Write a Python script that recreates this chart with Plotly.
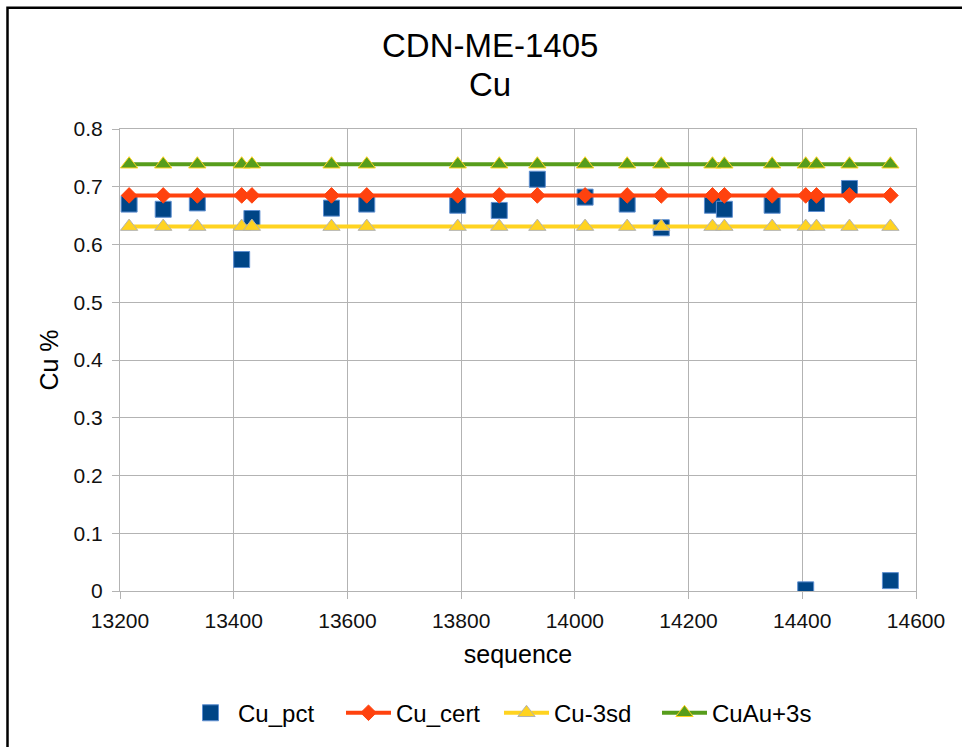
import plotly.graph_objects as go

# Data
sequence = [13216, 13276, 13336, 13414, 13432, 13572, 13634, 13794, 13867, 13934,
            14018, 14092, 14152, 14242, 14263, 14347, 14406, 14425, 14483, 14555]
cu_pct = [0.670, 0.661, 0.672, 0.574, 0.645, 0.663, 0.670, 0.668, 0.659, 0.713,
          0.682, 0.670, 0.629, 0.668, 0.661, 0.668, 0.002, 0.671, 0.697, 0.018]
cu_cert = [0.685] * len(sequence)
cu_minus_3sd = [0.631] * len(sequence)
cu_plus_3s = [0.739] * len(sequence)

title_lines = ["CDN-ME-1405", "Cu"]
x_title = "sequence"
y_title = "Cu %"

FONT = "Liberation Sans, Arial, sans-serif"
GRID = "#b3b3b3"

fig = go.Figure()
fig.add_trace(go.Scatter(
    x=sequence, y=cu_pct, name="Cu_pct", mode="markers",
    marker=dict(symbol="square", size=16, color="#004586",
                line=dict(color="#5e8fd0", width=1))))
fig.add_trace(go.Scatter(
    x=sequence, y=cu_cert, name="Cu_cert", mode="lines+markers",
    line=dict(color="#ff420e", width=4),
    marker=dict(symbol="diamond", size=12, color="#ff420e",
                line=dict(color="#ff420e", width=1))))
fig.add_trace(go.Scatter(
    x=sequence, y=cu_minus_3sd, name="Cu-3sd", mode="lines+markers",
    line=dict(color="#ffd320", width=4),
    marker=dict(symbol="triangle-up", size=15, color="#ffd320",
                line=dict(color="#b3b3b3", width=1))))
fig.add_trace(go.Scatter(
    x=sequence, y=cu_plus_3s, name="CuAu+3s", mode="lines+markers",
    line=dict(color="#579d1c", width=4),
    marker=dict(symbol="triangle-up", size=15, color="#579d1c",
                line=dict(color="#ffd320", width=1))))

L, R, T, B = 120, 46, 129.3, 153.7
W, H = 962, 747
pw, ph = W - L - R, H - T - B

def px_x(p):
    return (p - L) / pw

def px_y(p):
    return (H - B - p) / ph

fig.update_layout(
    width=W, height=H,
    margin=dict(l=L, r=R, t=T, b=B),
    paper_bgcolor="white", plot_bgcolor="white",
    font=dict(family=FONT, color="#000000", size=21),
    showlegend=True,
    legend=dict(orientation="h", x=px_x(499), xanchor="center",
                y=px_y(716), yanchor="middle", font=dict(size=24),
                itemwidth=45, entrywidth=98, entrywidthmode="pixels",
                tracegroupgap=0),
    xaxis=dict(range=[13200, 14600], dtick=200, tick0=13200, tickformat="d",
               showgrid=True, gridcolor=GRID, gridwidth=1,
               zeroline=False, showline=True, linecolor=GRID, mirror=True,
               ticks="outside", ticklen=7, tickcolor=GRID, ticklabelstandoff=4,
               tickfont=dict(size=21, color="#111111"),
               title=dict(text=x_title, font=dict(size=25), standoff=14)),
    yaxis=dict(range=[0, 0.8], dtick=0.1, tick0=0,
               showgrid=True, gridcolor=GRID, gridwidth=1,
               zeroline=False, showline=True, linecolor=GRID, mirror=True,
               ticks="outside", ticklen=7, tickcolor=GRID, ticklabelstandoff=5,
               tickfont=dict(size=21, color="#111111"),
               title=dict(text=y_title, font=dict(size=25), standoff=7)),
)

for txt, ypix in zip(title_lines, [45, 85]):
    fig.add_annotation(text=txt, xref="paper", yref="paper",
                       x=px_x(490), y=px_y(ypix), xanchor="center", yanchor="middle",
                       showarrow=False, font=dict(size=33, family=FONT, color="#000000"))

# outer black frame (right/bottom edges lie beyond the visible area)
fig.add_shape(type="rect", xref="paper", yref="paper",
              x0=px_x(7.5), x1=px_x(975), y0=px_y(7.5), y1=px_y(760),
              line=dict(color="black", width=2.5), fillcolor="rgba(0,0,0,0)",
              layer="above")

fig.write_html("out.html")
